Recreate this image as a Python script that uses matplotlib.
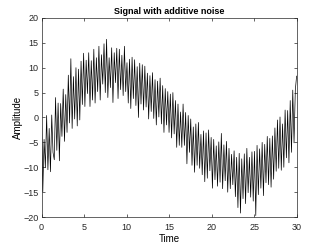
import numpy as np
import matplotlib
matplotlib.use("Agg")
import matplotlib.pyplot as plt

amplitude = [
    0.0, -14.9, -4.4, -10.1, 0.4, -10.5, -2.2, -10.9, 0.5, -7.0,
    -8.5, 4.0, -6.6, 2.9, -8.7, 2.8, -3.8, 5.7, -4.8, 4.6,
    -3.0, 8.5, -1.1, 11.8, -2.2, 8.2, -0.3, 10.0, -1.7, 9.7,
    -0.5, 11.3, 2.6, 12.9, 2.2, 11.5, 4.8, 13.0, 2.2, 11.4,
    3.5, 13.7, 2.9, 12.0, 5.2, 14.3, 3.5, 12.6, 6.7, 14.8,
    5.0, 15.7, 4.0, 12.0, 6.0, 14.0, 3.0, 13.0, 7.0, 13.9,
    3.8, 13.7, 5.6, 12.5, 4.4, 14.3, 5.2, 11.0, 2.9, 11.7,
    1.8, 12.1, 3.8, 11.6, 2.4, 10.2, 0.0, 10.9, 2.7, 10.6,
    1.5, 10.3, 2.1, 8.9, -0.3, 8.4, 1.2, 9.0, -0.2, 7.6,
    -1.5, 7.3, 0.1, 7.9, -1.3, 6.4, -3.0, 5.8, -1.5, 5.2,
    -3.0, 4.7, -4.1, 5.0, -3.3, 3.4, -6.0, 2.7, -5.6, 1.1,
    -6.0, 2.7, -5.6, 1.0, -9.3, 0.4, -7.0, -0.3, -9.6, -1.9,
    -11.0, -1.3, -9.6, -1.0, -10.2, -3.4, -11.5, -2.7, -12.9, -3.1,
    -12.2, -2.5, -10.7, -4.0, -14.2, -4.4, -12.5, -5.7, -13.8, -4.9,
    -13.0, -3.2, -14.3, -5.5, -12.7, -4.8, -15.0, -6.2, -14.3, -7.4,
    -13.5, -6.7, -15.9, -8.0, -18.1, -7.2, -19.2, -8.3, -16.3, -7.3,
    -17.3, -6.2, -15.1, -8.0, -16.0, -6.9, -16.8, -6.8, -19.7, -5.6,
    -15.5, -6.3, -14.2, -5.0, -15.7, -5.4, -13.1, -3.8, -13.5, -4.2,
    -14.0, -3.7, -12.4, -2.1, -10.8, -0.5, -10.2, 0.1, -10.6, -1.3,
    -10.0, 1.5, -8.1, 1.4, -9.1, 3.4, -7.0, 5.5, -5.1, 5.5,
    8.3,
]
t_start, t_end = 0, 30
time = np.linspace(t_start, t_end, len(amplitude))

x_ticks = [0, 5, 10, 15, 20, 25, 30]
y_ticks = [-20, -15, -10, -5, 0, 5, 10, 15, 20]

plt.rcParams['font.family'] = ['Liberation Sans', 'DejaVu Sans']
fig = plt.figure(figsize=(3.27, 2.45), dpi=100)
ax = fig.add_axes([0.127, 0.114, 0.78, 0.813])
ax.plot(time, amplitude, color='black', linewidth=0.5)
ax.set_xlim(0, 30)
ax.set_ylim(-20, 20)
ax.set_xticks(x_ticks)
ax.set_yticks(y_ticks)
ax.tick_params(direction='in', length=2.5, width=0.5, labelsize=6.5,
               top=True, right=True, colors='#262626')
ax.tick_params(axis='x', pad=4)
ax.tick_params(axis='y', pad=2)
for s in ax.spines.values():
    s.set_linewidth(0.5)
    s.set_color('#262626')
ax.set_title('Signal with additive noise', fontsize=6.5, fontweight='bold', pad=3)
ax.set_xlabel('Time', fontsize=7, labelpad=1.5)
ax.set_ylabel('Amplitude', fontsize=7, labelpad=0.5)
fig.savefig('out.png', dpi=100)
